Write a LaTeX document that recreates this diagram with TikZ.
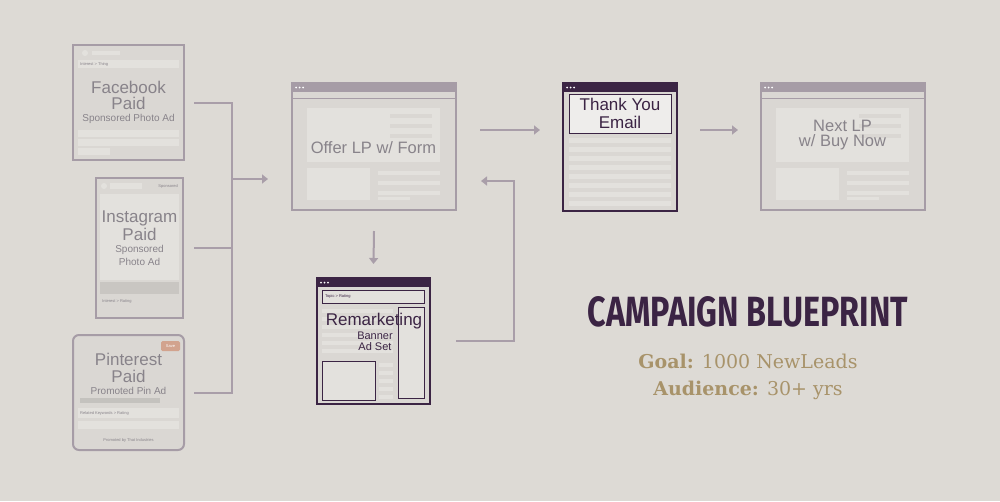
\documentclass[tikz,border=0pt]{standalone}
\usepackage{graphicx}
\usepackage{fontspec}
\setmainfont{Liberation Sans}
\newfontfamily\headfont{Fira Sans}
\newfontfamily\goalfont{DejaVu Serif}
\usetikzlibrary{arrows.meta}

\definecolor{paper}{HTML}{DDDAD5}
\definecolor{cardfill}{HTML}{DAD7D3}
\definecolor{cardline}{HTML}{A69CA6}
\definecolor{panel}{HTML}{E3E1DD}
\definecolor{greytext}{HTML}{88838A}
\definecolor{plum}{HTML}{3B2444}
\definecolor{flowline}{HTML}{A99EA9}
\definecolor{gold}{HTML}{A8936A}
\definecolor{badge}{HTML}{D2A38E}

\tikzset{
  card/.style={draw=cardline, line width=2pt, fill=cardfill, inner sep=0pt},
  plumcard/.style={draw=plum, line width=2pt, fill=cardfill, inner sep=0pt},
  bar/.style={fill=panel, draw=none},
  tiny/.style={font=\fontsize{4}{4}\selectfont, text=greytext, inner sep=0pt},
  title/.style={font=\fontsize{17}{17}\selectfont, text=greytext, inner sep=0pt},
  sub/.style={font=\fontsize{10}{10}\selectfont, text=greytext, inner sep=0pt},
  flow/.style={draw=flowline, line width=2pt},
  flowarrow/.style={flow, -{Triangle[length=6pt,width=9pt]}},
  dot/.style={fill=white, draw=none}
}

\begin{document}
\begin{tikzpicture}[x=1pt,y=1pt,yscale=-1]
\useasboundingbox (0,0) rectangle (1000,501);
\fill[paper] (0,0) rectangle (1000,501);

%Card: Facebook
\node[card, minimum width=111pt, minimum height=115pt] (fb) at (128.5,102.5) {};
\fill[panel] (85,53) circle (3);
\fill[panel] (92,51) rectangle (120,55);
\fill[bar] (78,60) rectangle (179,68);
\node[tiny, anchor=west] (fbtag) at (80,64) {Interest > Thing};
\fill[bar] (78,130) rectangle (179,137);
\fill[bar] (78,139) rectangle (179,146);
\fill[bar] (78,148) rectangle (110,155);
\node[title] (fbt1) at (128.5,87) {Facebook};
\node[title] (fbt2) at (128.5,103.5) {Paid};
\node[sub] (fbt3) at (128.5,119) {Sponsored Photo Ad};

%Card: Instagram
\node[card, minimum width=87pt, minimum height=140pt] (ig) at (139.5,248) {};
\fill[panel] (104,186) circle (3);
\fill[panel] (110,183) rectangle (142,189);
\node[tiny, anchor=east] (igtag) at (178,186) {Sponsored};
\fill[bar] (100,194) rectangle (179,280);
\fill[cardfill!92!black] (100,282) rectangle (179,294);
\node[tiny, anchor=west] (igfoot) at (102,301) {Interest > Rating};
\node[title] (igt1) at (139.5,218) {Instagram};
\node[title] (igt2) at (139.5,234.5) {Paid};
\node[sub] (igt3) at (139.5,249.5) {Sponsored};
\node[sub] (igt4) at (139.5,261.5) {Photo Ad};

%Card: Pinterest
\node[card, rounded corners=6pt, minimum width=111pt, minimum height=115pt] (pin) at (128.5,392.5) {};
\fill[badge, rounded corners=1.5pt] (161,341) rectangle (180,351);
\node[tiny, text=white] (pinsave) at (170.5,346) {Save};
\fill[cardfill!90!black] (80,398) rectangle (160,403);
\fill[bar] (78,408) rectangle (179,418);
\node[tiny, anchor=west] (pinkey) at (80,413) {Related Keywords > Rating};
\fill[bar] (78,421) rectangle (179,429);
\node[tiny] (pinfoot) at (128.5,440) {Promoted by That Industries};
\node[title] (pint1) at (128.5,359.5) {Pinterest};
\node[title] (pint2) at (128.5,376) {Paid};
\node[sub] (pint3) at (128.5,391) {Promoted Pin Ad};

%Card: Offer LP
\node[card, minimum width=164pt, minimum height=127pt] (offer) at (374,146.5) {};
\fill[cardline] (292,83) rectangle (456,92);
\foreach \d in {0,3.5,7} \fill[dot] (296+\d,87.5) circle (1);
\draw[cardline, line width=1pt] (292,98) -- (456,98);
\fill[panel] (307,108) rectangle (440,162);
\foreach \y in {114,124,134} \fill[cardfill] (390,\y) rectangle (432,\y+4);
\fill[panel] (307,168) rectangle (370,200);
\foreach \y in {171,181,191} \fill[panel] (378,\y) rectangle (440,\y+4);
\fill[panel] (378,197) rectangle (410,200);
\node[title, font=\fontsize{16.5}{16}\selectfont] (offert) at (373.5,148) {Offer LP w/ Form};

%Card: Remarketing
\node[plumcard, minimum width=113pt, minimum height=126pt] (remark) at (373.5,341) {};
\fill[plum] (317,278) rectangle (430,287);
\foreach \d in {0,3.5,7} \fill[dot] (321+\d,282.5) circle (1);
\draw[plum, fill=panel, line width=1pt] (322,290) rectangle (424,303);
\node[tiny, text=plum, anchor=west] (remtag) at (325,296.5) {Topic > Rating};
\foreach \y in {309,317,325,333,341,349} \fill[panel] (322,\y) rectangle (393,\y+4);
\draw[plum, fill=panel, line width=1pt] (398,307) rectangle (424,398);
\draw[plum, fill=panel, line width=1pt] (322,361) rectangle (375,400);
\foreach \y in {363,371,379,387,395} \fill[panel] (379,\y) rectangle (393,\y+4);
\node[title, text=plum, font=\fontsize{17}{16}\selectfont] (remt1) at (374,321.5) {Remarketing};
\node[sub, text=plum, font=\fontsize{11}{11}\selectfont] (remt2) at (375,335.5) {Banner};
\node[sub, text=plum, font=\fontsize{11}{11}\selectfont] (remt3) at (375,347) {Ad Set};

%Card: Thank You Email
\node[plumcard, minimum width=114pt, minimum height=128pt] (thank) at (620,147) {};
\fill[plum] (563,83) rectangle (677,92);
\foreach \d in {0,3.5,7} \fill[dot] (567+\d,87.5) circle (1);
\draw[plum, fill=panel!60!white, line width=1pt] (569,94) rectangle (671,133);
\foreach \y in {138,147,156,165,174,183,192,201} \fill[panel] (569,\y) rectangle (671,\y+5);
\node[title, text=plum] (tht1) at (620,104.5) {Thank You};
\node[title, text=plum] (tht2) at (620,122) {Email};

%Card: Next LP
\node[card, minimum width=164pt, minimum height=127pt] (next) at (842.5,146.5) {};
\fill[cardline] (761,83) rectangle (925,92);
\foreach \d in {0,3.5,7} \fill[dot] (765+\d,87.5) circle (1);
\draw[cardline, line width=1pt] (761,98) -- (925,98);
\fill[panel] (776,108) rectangle (909,162);
\foreach \y in {114,124,134} \fill[cardfill] (859,\y) rectangle (901,\y+4);
\fill[panel] (776,168) rectangle (839,200);
\foreach \y in {171,181,191} \fill[panel] (847,\y) rectangle (909,\y+4);
\fill[panel] (847,197) rectangle (879,200);
\node[title, font=\fontsize{16.5}{16}\selectfont] (nextt1) at (842.5,125.5) {Next LP};
\node[title, font=\fontsize{16.5}{16}\selectfont] (nextt2) at (842.5,142.5) {w/ Buy Now};

%Connectors
\coordinate (fbout) at ([xshift=9pt]fb.east);
\coordinate (igout) at ([xshift=10pt]ig.east);
\coordinate (pinout) at ([xshift=9pt]pin.east);
\coordinate (jtop) at (232,102.5);
\coordinate (jbot) at (232,392.5);
\coordinate (jmid) at (232,179);
\coordinate (offin) at (268,179);
\draw[flow] (fbout) -- (jtop) -- (jbot) -- (pinout);
\draw[flow] (igout) -- (igout -| jtop);
\draw[flowarrow] (jmid) -- (offin);

\coordinate (offdown) at ([yshift=20pt]offer.south);
\coordinate (remin) at ([yshift=-13pt]remark.north);
\draw[flowarrow] (offdown) -- (remin);

\coordinate (remout) at ([xshift=25pt]remark.east);
\coordinate (backup) at (514,181);
\coordinate (offback) at (481,181);
\draw[flowarrow] (remout) -- (remout -| backup) -- (backup) -- (offback);

\coordinate (offout) at (480,130);
\coordinate (thin) at (540,130);
\draw[flowarrow] (offout) -- (thin);
\coordinate (thout) at (700,130);
\coordinate (nextin) at (738,130);
\draw[flowarrow] (thout) -- (nextin);

%Title block
\node[text=plum, inner sep=0pt] (headline) at (748,312) {\resizebox{320pt}{30pt}{\headfont\bfseries CAMPAIGN BLUEPRINT}};
\node[text=gold, inner sep=0pt, font=\goalfont\fontsize{19}{19}\selectfont] (goal) at (748,361) {\textbf{Goal:} 1000 NewLeads};
\node[text=gold, inner sep=0pt, font=\goalfont\fontsize{19}{19}\selectfont] (audience) at (748,390) {\textbf{Audience:} 30+ yrs};

\end{tikzpicture}
\end{document}
